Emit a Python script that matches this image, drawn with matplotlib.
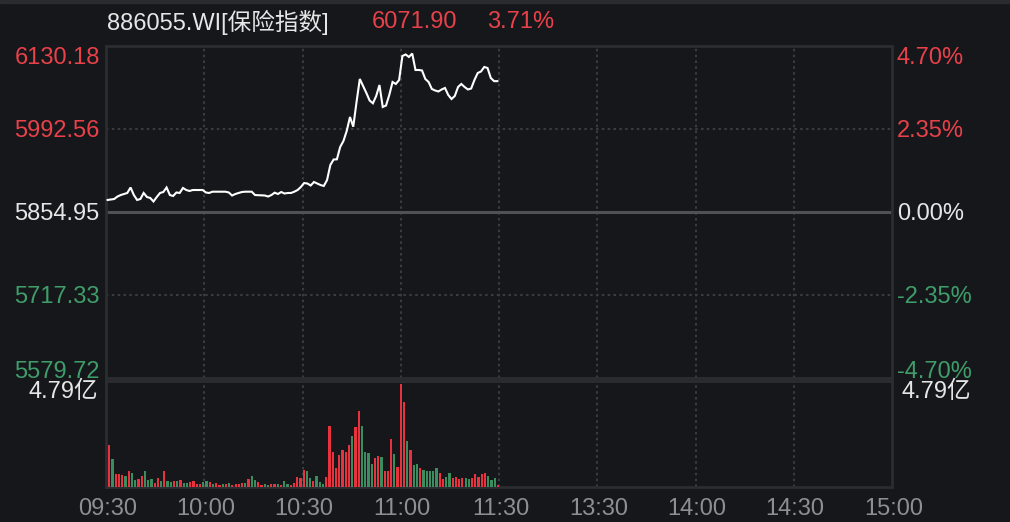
import numpy as np
import matplotlib
matplotlib.use("Agg")
import matplotlib.pyplot as plt
from matplotlib.patches import Rectangle

plt.rcParams['font.family'] = ['Liberation Sans', 'Noto Sans CJK SC', 'DejaVu Sans']

# ---- data ----
pre_close = 5854.95
last_price = 6071.90
last_pct = "3.71%"
title_name = "886055.WI[保险指数]"

price_ticks = [6130.18, 5992.56, 5854.95, 5717.33, 5579.72]
price_labels = ["6130.18", "5992.56", "5854.95", "5717.33", "5579.72"]
pct_labels = ["4.70%", "2.35%", "0.00%", "-2.35%", "-4.70%"]
vol_max_label = "4.79亿"

time_ticks = [0, 30, 60, 90, 120, 150, 180, 210, 240]
time_labels = ["09:30", "10:00", "10:30", "11:00", "11:30", "13:30", "14:00", "14:30", "15:00"]

# minute close prices 09:30 -> 11:29
prices = [
    5874.9, 5875.7, 5876.5, 5880.6, 5883.1, 5884.8, 5886.5, 5895.6, 5883.1, 5874.9,
    5876.5, 5886.5, 5879.8, 5878.2, 5872.4, 5879.8, 5886.5, 5888.1, 5895.6, 5883.1,
    5881.5, 5887.3, 5886.5, 5894.8, 5891.4, 5889.8, 5891.4, 5891.4, 5891.4, 5891.4,
    5887.3, 5886.5, 5888.6, 5888.6, 5888.6, 5888.6, 5888.6, 5887.3, 5882.3, 5884.8,
    5886.5, 5888.1, 5888.6, 5888.6, 5888.6, 5883.1, 5882.8, 5882.6, 5882.3, 5880.6,
    5883.1, 5887.0, 5884.8, 5888.1, 5885.6, 5886.5, 5886.5, 5888.6, 5891.4, 5896.4,
    5903.0, 5902.2, 5898.9, 5904.7, 5902.2, 5899.7, 5898.1, 5908.0, 5932.9, 5942.0,
    5942.3, 5962.7, 5972.7, 5989.3, 6012.5, 5996.4, 6037.3, 6075.5, 6063.9, 6052.3,
    6039.8, 6035.2, 6047.3, 6065.5, 6029.1, 6031.5, 6049.0, 6070.5, 6067.2, 6073.8,
    6113.6, 6116.1, 6112.0, 6117.7, 6090.4, 6090.4, 6089.6, 6075.5, 6070.5, 6058.9,
    6056.4, 6054.8, 6058.1, 6060.6, 6049.0, 6042.3, 6047.3, 6062.2, 6067.2, 6062.2,
    6058.1, 6059.7, 6073.8, 6085.4, 6087.9, 6095.4, 6093.7, 6077.1, 6071.9, 6071.9,
]

# minute volume (亿)
volumes = [
    1.93, 1.28, 0.62, 0.62, 0.58, 0.53, 0.72, 0.67, 0.34, 0.39,
    0.53, 0.72, 0.34, 0.39, 0.20, 0.44, 0.30, 0.72, 0.30, 0.25,
    0.30, 0.30, 0.34, 0.20, 0.20, 0.25, 0.30, 0.16, 0.16, 0.25,
    0.30, 0.25, 0.16, 0.20, 0.11, 0.16, 0.16, 0.20, 0.11, 0.16,
    0.16, 0.20, 0.20, 0.39, 0.53, 0.34, 0.25, 0.11, 0.14, 0.11,
    0.16, 0.16, 0.16, 0.11, 0.30, 0.16, 0.11, 0.20, 0.48, 0.44,
    0.81, 0.76, 0.44, 0.30, 0.53, 0.25, 0.16, 0.48, 2.82, 1.61,
    0.86, 1.47, 1.70, 1.61, 1.93, 2.36, 2.78, 3.53, 2.82, 1.61,
    1.56, 1.09, 1.33, 1.42, 1.37, 0.76, 0.76, 2.22, 1.51, 0.95,
    4.79, 3.95, 2.12, 1.70, 1.00, 1.09, 0.90, 0.81, 0.72, 0.72,
    0.72, 0.86, 0.67, 0.39, 0.48, 0.67, 0.44, 0.48, 0.39, 0.44,
    0.44, 0.39, 0.44, 0.62, 0.48, 0.62, 0.67, 0.53, 0.34, 0.44, 0.11,
]
# R = up bar, G = down bar
vol_dir = ("RGRRRGRGGR" "RGGGRRGRGG" "RGRGGRRRRG" "GRGRRGRGRR" "RRGRGGRRGG"
           "RRGRGGRRRR" "RGGRGGGRRR" "RRRRRGRRGG" "GGRRGRRRGR" "RRGRGGRGGG"
           "GGRRGGRRRR" "GGRRRRRGGGR")

# ---- style ----
BG = '#16171b'
FRAME = '#2c2d31'
GRID = '#3a3b40'
RED = '#e8333f'
GREEN = '#3b8d60'
RED_TXT = '#e8414a'
GREEN_TXT = '#3f9d6a'
WHITE_TXT = '#e6e6e6'
label_colors = [RED_TXT, RED_TXT, WHITE_TXT, GREEN_TXT, GREEN_TXT]
FS = 17

W, H = 1010, 522
fig = plt.figure(figsize=(W / 100, H / 100), dpi=100, facecolor=BG)
fig.patches.append(Rectangle((0, 1 - 3 / H), 1, 3 / H, transform=fig.transFigure,
                             color='#2a2b2f', zorder=0))

left, right = 106, 892
ax = fig.add_axes([left / W, 1 - 378 / H, (right - left) / W, (378 - 46) / H])
vax = fig.add_axes([left / W, 1 - 487 / H, (right - left) / W, (487 - 381) / H])

for a in (ax, vax):
    a.set_facecolor(BG)
    a.set_xlim(0, 240)
    a.set_xticks([])
    a.set_yticks([])
    for s in a.spines.values():
        s.set_color(FRAME)
        s.set_linewidth(2)
    for t in time_ticks[1:-1]:
        a.axvline(t, color=GRID, lw=1.5, ls=(0, (1.2, 1.6)), zorder=1)

# price panel
ax.set_ylim(price_ticks[-1], price_ticks[0])
for v in (price_ticks[1], price_ticks[3]):
    ax.axhline(v, color=GRID, lw=1.5, ls=(0, (1.2, 1.6)), zorder=1)
ax.axhline(pre_close, color='#505155', lw=2.2, zorder=2)
ax.plot(np.arange(len(prices)) + 0.5, prices, color='white', lw=1.5, zorder=3,
        solid_joinstyle='miter')

offsets = [-6.8, 0, 0, 0, 5.8]
for v, lab, pct, col, dy in zip(price_ticks, price_labels, pct_labels, label_colors, offsets):
    ax.annotate(lab, xy=(0, v), xycoords=('axes fraction', 'data'),
                xytext=(-4.5, dy - 1.5), textcoords='offset points',
                ha='right', va='center', color=col, fontsize=FS)
    ax.annotate(pct, xy=(1, v), xycoords=('axes fraction', 'data'),
                xytext=(3.5, dy - 1.5), textcoords='offset points',
                ha='left', va='center', color=col, fontsize=FS)

# volume panel
bar_x = np.linspace(1.0, 119.7, len(volumes))
bar_colors = [RED if c == 'R' else GREEN for c in vol_dir]
vax.bar(bar_x, volumes, width=0.68, color=bar_colors, zorder=3)
vax.set_ylim(0, 4.92)

fig.text(98 / W, 1 - 392 / H, vol_max_label, ha='right', va='center',
         color=WHITE_TXT, fontsize=FS)
fig.text(902 / W, 1 - 392 / H, vol_max_label, ha='left', va='center',
         color=WHITE_TXT, fontsize=FS)

# time axis labels
for t, lab in zip(time_ticks, time_labels):
    vax.annotate(lab, xy=(t, 0), xycoords=('data', 'axes fraction'),
                 xytext=(1, -15.5), textcoords='offset points',
                 ha='center', va='center', color='#8e8f94', fontsize=FS)

# header
fig.text(107 / W, 1 - 22 / H, title_name, ha='left', va='center', color=WHITE_TXT, fontsize=FS)
fig.text(372 / W, 1 - 22 / H, f"{last_price:.2f}", ha='left', va='center', color=RED_TXT, fontsize=FS)
fig.text(487 / W, 1 - 22 / H, last_pct, ha='left', va='center', color=RED_TXT, fontsize=FS)

fig.savefig('out.png', dpi=100, facecolor=BG)
